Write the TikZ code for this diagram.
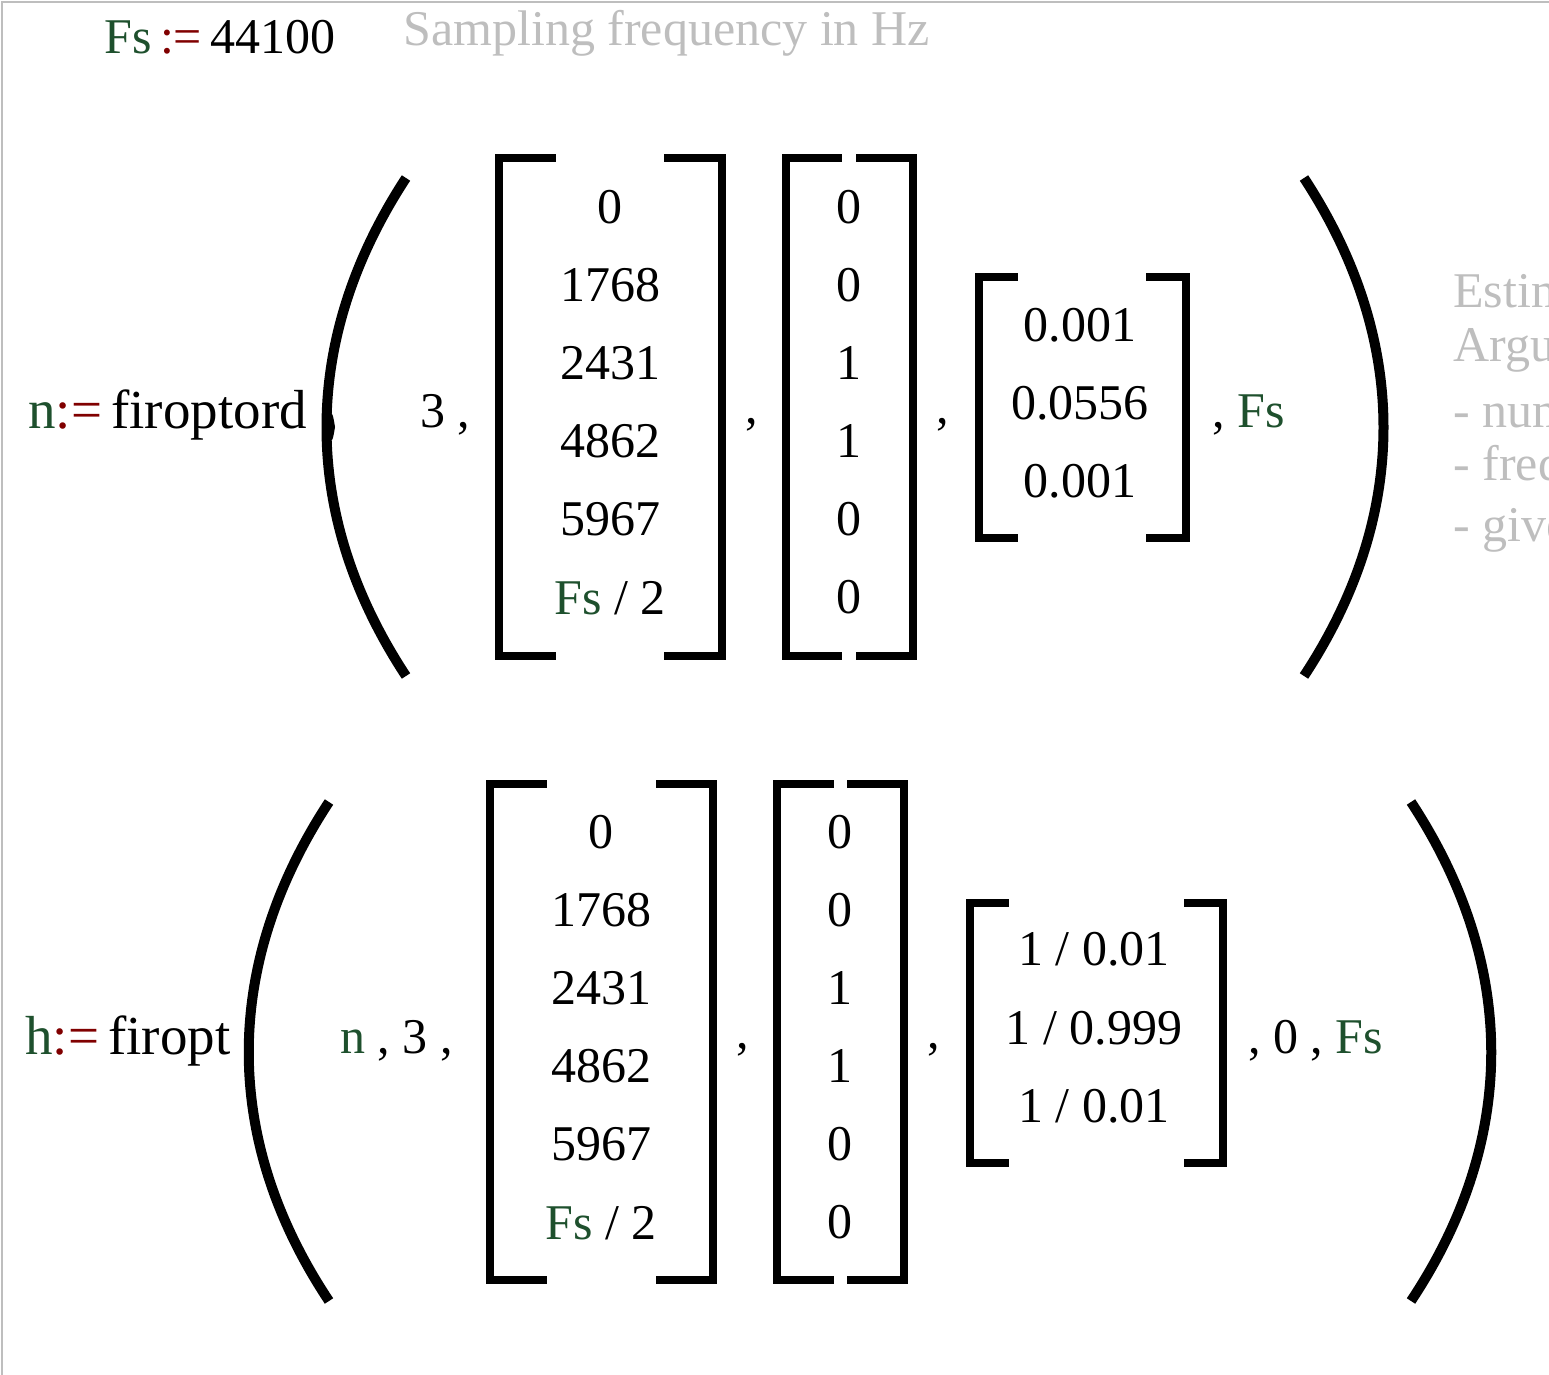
\documentclass[tikz,border=0pt]{standalone}
\usepackage{fontspec}
\setmainfont{Liberation Serif}
\definecolor{vg}{RGB}{30,80,45}
\definecolor{mr}{RGB}{128,0,0}
\definecolor{gt}{RGB}{190,190,190}
\begin{document}
\begin{tikzpicture}[x=0.5pt,y=-0.5pt,
  t/.style={font=\fontsize{25}{30}\selectfont,inner sep=0pt,anchor=center},
  tl/.style={t,anchor=west},
  br/.style={line width=4pt,line cap=rect,line join=miter},
  pa/.style={line width=5pt,line cap=butt}]
\useasboundingbox (0,0) rectangle (1549,1375);
\draw[gt,line width=1pt] (2,1375) -- (2,2) -- (1549,2);
% top line
\node[tl] (fs) at (104,37) {\textcolor{vg}{Fs}\,\textcolor{mr}{:=}\,44100};
\node[tl,gt] (cm) at (403,33) {Sampling frequency in Hz};
\begin{scope}
\clip (1440,250) rectangle (1549,570);
\node[tl,gt] (e1) at (1453,290) {Estimated};
\node[tl,gt] (e2) at (1453,350) {Arguments};
\node[tl,gt] (e3) at (1453,410) {- number};
\node[tl,gt] (e4) at (1453,468) {- frequency};
\node[tl,gt] (e5) at (1453,530) {- given};
\end{scope}
% row 1
\node[tl,font=\fontsize{27.5}{30}\selectfont] (n1) at (28,415) {\textcolor{vg}{n}\textcolor{mr}{:=}\,firoptord};
\draw[pa] (406,178) .. controls (300,340) and (300,515) .. (406,676);
\fill (335,427) .. controls (328,380) and (328,474) .. (335,427);
\draw[pa] (1304,178) .. controls (1410,340) and (1410,515) .. (1304,676);
\node[t] (a1) at (445,415) {3 ,};
\draw[br] (552,158) -| (499,656) -- (552,656);
\draw[br] (668,158) -| (722,656) -- (668,656);
\draw[br] (838,158) -| (786,656) -- (838,656);
\draw[br] (860,158) -| (913,656) -- (860,656);
\draw[br] (1014,277) -| (979,538) -- (1014,538);
\draw[br] (1150,277) -| (1186,538) -- (1150,538);
\foreach \v [count=\i] in {0,1768,2431,4862,5967} \node[t] (p\i) at (610,129+78*\i) {\v};
\node[t] (p6) at (610,598) {\textcolor{vg}{Fs} / 2};
\foreach \v [count=\i] in {0,0,1,1,0,0} \node[t] (q\i) at (849,129+78*\i) {\v};
\foreach \v [count=\i] in {0.001,0.0556,0.001} \node[t] (r\i) at (1080,247+78*\i) {\v};
\node[t] (c1) at (752,425) {,};
\node[t] (c2) at (943,425) {,};
\node[tl] (c3) at (1212,415) {, \textcolor{vg}{Fs}};
% row 2
\node[tl,font=\fontsize{27.5}{30}\selectfont] (h1) at (25,1041) {\textcolor{vg}{h}\textcolor{mr}{:=}\,firopt};
\draw[pa] (329,802) .. controls (222,965) and (222,1140) .. (329,1301);
\draw[pa] (1411,802) .. controls (1518,965) and (1518,1140) .. (1411,1301);
\node[tl] (a2) at (340,1041) {\textcolor{vg}{n} , 3 ,};
\draw[br] (543,784) -| (490,1280) -- (543,1280);
\draw[br] (660,784) -| (713,1280) -- (660,1280);
\draw[br] (830,784) -| (777,1280) -- (830,1280);
\draw[br] (851,784) -| (904,1280) -- (851,1280);
\draw[br] (1005,903) -| (970,1163) -- (1005,1163);
\draw[br] (1188,903) -| (1223,1163) -- (1188,1163);
\foreach \v [count=\i] in {0,1768,2431,4862,5967} \node[t] (s\i) at (601,754+78*\i) {\v};
\node[t] (s6) at (601,1223) {\textcolor{vg}{Fs} / 2};
\foreach \v [count=\i] in {0,0,1,1,0,0} \node[t] (u\i) at (840,754+78*\i) {\v};
\node[t] (w1) at (1094,949) {1 / 0.01};
\node[t] (w2) at (1094,1028) {1 / 0.999};
\node[t] (w3) at (1094,1106) {1 / 0.01};
\node[t] (d1) at (743,1050) {,};
\node[t] (d2) at (934,1050) {,};
\node[tl] (d3) at (1248,1041) {, 0 , \textcolor{vg}{Fs}};
\end{tikzpicture}
\end{document}
